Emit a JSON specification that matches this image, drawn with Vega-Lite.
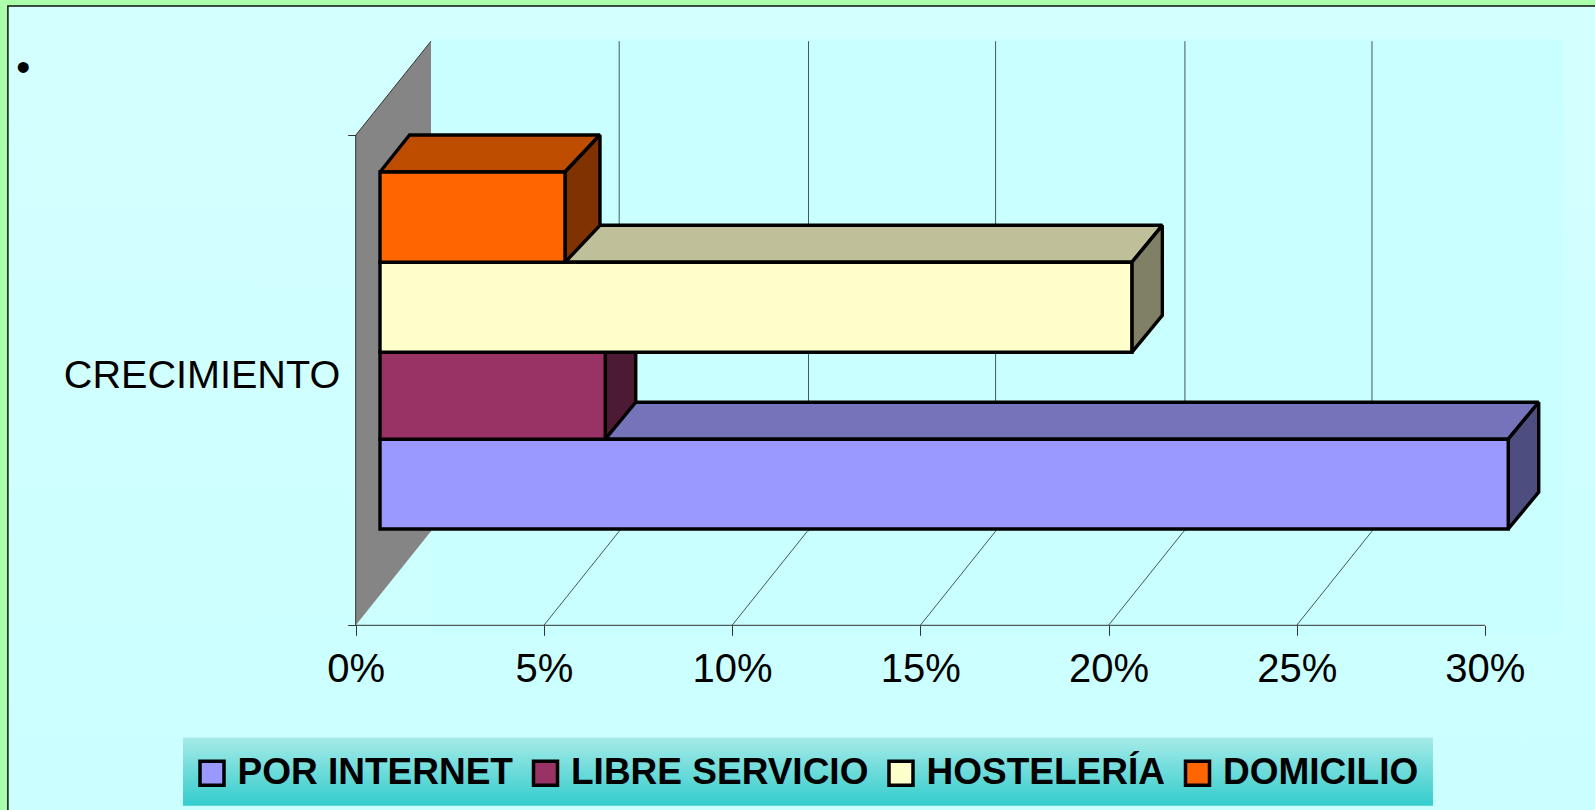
{"$schema":"https://vega.github.io/schema/vega-lite/v6.json","width":1595,"height":810,"padding":0,"autosize":{"type":"none"},"background":"#AAFFAA","config":{"view":{"stroke":null},"font":"Liberation Sans"},"datasets":{"panel":[{"x":-9.24,"x2":33.5,"y":126.4,"y2":-40}],"fondo":[{"x":2,"x2":32.07,"y":119.6,"y2":-2}],"leyenda":[{"x":-4.588,"x2":28.62,"y":-22.9,"y2":-36.8}],"pared":[{"serie":"pared","x":0,"abajo":0,"arriba":100},{"serie":"pared","x":2,"abajo":19.2,"arriba":119.2}],"rejilla":[{"x":5,"x2":7,"y":0,"y2":19.2},{"x":10,"x2":12,"y":0,"y2":19.2},{"x":15,"x2":17,"y":0,"y2":19.2},{"x":20,"x2":22,"y":0,"y2":19.2},{"x":25,"x2":27,"y":0,"y2":19.2},{"x":7,"x2":7,"y":19.2,"y2":119.2},{"x":12.03,"x2":12.03,"y":19.2,"y2":119.2},{"x":17,"x2":17,"y":19.2,"y2":119.2},{"x":22.03,"x2":22.03,"y":19.2,"y2":119.2},{"x":27,"x2":27,"y":19.2,"y2":119.2}],"bordes":[{"x":0,"x2":0,"y":0,"y2":100},{"x":0,"x2":2,"y":100,"y2":119.2},{"x":0,"x2":30,"y":0,"y2":0}],"arriba":[{"serie":"POR INTERNET arriba","y":37.98,"desde":0.646,"hasta":30.62},{"serie":"POR INTERNET arriba","y":45.53,"desde":1.456,"hasta":31.43},{"serie":"LIBRE SERVICIO arriba","y":55.71,"desde":0.646,"hasta":6.63},{"serie":"LIBRE SERVICIO arriba","y":63.26,"desde":1.456,"hasta":7.44},{"serie":"HOSTELERÍA arriba","y":74.08,"desde":0.646,"hasta":20.62},{"serie":"HOSTELERÍA arriba","y":81.63,"desde":1.456,"hasta":21.43},{"serie":"DOMICILIO arriba","y":92.51,"desde":0.646,"hasta":5.56},{"serie":"DOMICILIO arriba","y":100.06,"desde":1.43,"hasta":6.49}],"lado":[{"serie":"POR INTERNET lado","x":30.62,"abajo":19.65,"arriba":37.98},{"serie":"POR INTERNET lado","x":31.43,"abajo":27.2,"arriba":45.53},{"serie":"LIBRE SERVICIO lado","x":6.63,"abajo":37.98,"arriba":55.71},{"serie":"LIBRE SERVICIO lado","x":7.44,"abajo":45.53,"arriba":63.26},{"serie":"HOSTELERÍA lado","x":20.62,"abajo":55.71,"arriba":74.08},{"serie":"HOSTELERÍA lado","x":21.43,"abajo":63.26,"arriba":81.63},{"serie":"DOMICILIO lado","x":5.56,"abajo":74.08,"arriba":92.51},{"serie":"DOMICILIO lado","x":6.49,"abajo":81.63,"arriba":100.06}],"frente":[{"serie":"POR INTERNET","desde":0.646,"hasta":30.62,"abajo":19.65,"arriba":37.98},{"serie":"LIBRE SERVICIO","desde":0.646,"hasta":6.63,"abajo":37.98,"arriba":55.71},{"serie":"HOSTELERÍA","desde":0.646,"hasta":20.62,"abajo":55.71,"arriba":74.08},{"serie":"DOMICILIO","desde":0.646,"hasta":5.56,"abajo":74.08,"arriba":92.51}],"vineta":[{"x":-8.83,"y":113.5,"t":"•"}]},"layer":[{"data":{"name":"panel"},"mark":{"type":"rect","fill":{"gradient":"linear","x1":0,"y1":0,"x2":0,"y2":1,"stops":[{"offset":0,"color":"#D3FFFF"},{"offset":0.5,"color":"#D0FFFF"},{"offset":0.8,"color":"#CCFFFF"},{"offset":1,"color":"#CBFFFF"}]},"stroke":"#111111","strokeWidth":1.5},"encoding":{"x":{"field":"x","type":"quantitative","scale":{"domain":[-9.45,32.925],"nice":false,"zero":false},"axis":{"title":null,"values":[0,5,10,15,20,25,30],"orient":"bottom","offset":-184.7,"domain":false,"grid":false,"ticks":true,"tickSize":10,"tickColor":"#333333","tickWidth":1,"labelExpr":"datum.value + '%'","labelFont":"Liberation Sans","labelFontSize":40,"labelColor":"#000000","labelPadding":14,"labelOverlap":false,"labelFlush":false,"zindex":1}},"x2":{"field":"x2"},"y":{"field":"y","type":"quantitative","scale":{"domain":[-37.69,127.61],"nice":false,"zero":false},"axis":{"title":null,"values":[0,50,100],"orient":"left","offset":-355.7,"domain":false,"grid":false,"tickSize":8,"tickColor":"#333333","tickWidth":1,"tickOpacity":{"condition":{"test":"datum.value === 50","value":0},"value":1},"labelExpr":"datum.value === 50 ? 'CRECIMIENTO' : ''","labelFont":"Liberation Sans","labelFontSize":39.6,"labelColor":"#000000","labelPadding":8,"labelOffset":-5,"labelOverlap":false,"labelLimit":500,"labelFlush":false,"zindex":1}},"y2":{"field":"y2"}}},{"data":{"name":"fondo"},"mark":{"type":"rect","fill":"#CAFFFF"},"encoding":{"x":{"field":"x","type":"quantitative","scale":{"domain":[-9.45,32.925],"nice":false,"zero":false}},"x2":{"field":"x2"},"y":{"field":"y","type":"quantitative","scale":{"domain":[-37.69,127.61],"nice":false,"zero":false}},"y2":{"field":"y2"}}},{"data":{"name":"leyenda"},"mark":{"type":"rect","fill":{"gradient":"linear","x1":0,"y1":0,"x2":0,"y2":1,"stops":[{"offset":0,"color":"#A6EBE8"},{"offset":1,"color":"#33CCCC"}]}},"encoding":{"x":{"field":"x","type":"quantitative","scale":{"domain":[-9.45,32.925],"nice":false,"zero":false}},"x2":{"field":"x2"},"y":{"field":"y","type":"quantitative","scale":{"domain":[-37.69,127.61],"nice":false,"zero":false}},"y2":{"field":"y2"}}},{"data":{"name":"pared"},"mark":{"type":"area","fill":"#858585","orient":"vertical"},"encoding":{"x":{"field":"x","type":"quantitative","scale":{"domain":[-9.45,32.925],"nice":false,"zero":false}},"y":{"field":"abajo","type":"quantitative","scale":{"domain":[-37.69,127.61],"nice":false,"zero":false}},"y2":{"field":"arriba"}}},{"data":{"name":"rejilla"},"mark":{"type":"rule","stroke":"#3F5A5A","strokeWidth":1},"encoding":{"x":{"field":"x","type":"quantitative","scale":{"domain":[-9.45,32.925],"nice":false,"zero":false}},"x2":{"field":"x2"},"y":{"field":"y","type":"quantitative","scale":{"domain":[-37.69,127.61],"nice":false,"zero":false}},"y2":{"field":"y2"}}},{"data":{"name":"bordes"},"mark":{"type":"rule","stroke":"#333333","strokeWidth":1},"encoding":{"x":{"field":"x","type":"quantitative","scale":{"domain":[-9.45,32.925],"nice":false,"zero":false}},"x2":{"field":"x2"},"y":{"field":"y","type":"quantitative","scale":{"domain":[-37.69,127.61],"nice":false,"zero":false}},"y2":{"field":"y2"}}},{"data":{"name":"arriba"},"mark":{"type":"area","orient":"horizontal","stroke":"#000000","strokeWidth":3.4,"strokeJoin":"miter","strokeMiterLimit":2},"encoding":{"y":{"field":"y","type":"quantitative","scale":{"domain":[-37.69,127.61],"nice":false,"zero":false}},"x":{"field":"desde","type":"quantitative","scale":{"domain":[-9.45,32.925],"nice":false,"zero":false}},"x2":{"field":"hasta"},"fill":{"field":"serie","type":"nominal"}}},{"data":{"name":"lado"},"mark":{"type":"area","orient":"vertical","stroke":"#000000","strokeWidth":3.4,"strokeJoin":"miter","strokeMiterLimit":2},"encoding":{"x":{"field":"x","type":"quantitative","scale":{"domain":[-9.45,32.925],"nice":false,"zero":false}},"y":{"field":"abajo","type":"quantitative","scale":{"domain":[-37.69,127.61],"nice":false,"zero":false}},"y2":{"field":"arriba"},"fill":{"field":"serie","type":"nominal"}}},{"data":{"name":"frente"},"mark":{"type":"rect","stroke":"#000000","strokeWidth":3.4},"encoding":{"x":{"field":"desde","type":"quantitative","scale":{"domain":[-9.45,32.925],"nice":false,"zero":false}},"x2":{"field":"hasta"},"y":{"field":"abajo","type":"quantitative","scale":{"domain":[-37.69,127.61],"nice":false,"zero":false}},"y2":{"field":"arriba"},"fill":{"field":"serie","type":"nominal","scale":{"domain":["POR INTERNET","LIBRE SERVICIO","HOSTELERÍA","DOMICILIO","POR INTERNET arriba","LIBRE SERVICIO arriba","HOSTELERÍA arriba","DOMICILIO arriba","POR INTERNET lado","LIBRE SERVICIO lado","HOSTELERÍA lado","DOMICILIO lado"],"range":["#9999FF","#993366","#FFFFCC","#FF6600","#7574BB","#73264D","#BFBF99","#BF4D00","#4D4D80","#4D1A33","#808066","#803300"]},"legend":{"values":["POR INTERNET","LIBRE SERVICIO","HOSTELERÍA","DOMICILIO"],"title":null,"orient":"none","legendX":193.5,"legendY":754.5,"direction":"horizontal","columns":4,"symbolType":"square","symbolSize":576,"symbolStrokeColor":"#000000","symbolStrokeWidth":3.5,"symbolOpacity":1,"labelFont":"Liberation Sans","labelFontWeight":"bold","labelFontSize":37,"labelColor":"#000000","labelOffset":7,"columnPadding":12.5,"labelLimit":500}}}},{"data":{"name":"vineta"},"mark":{"type":"text","font":"Liberation Sans","fontSize":40,"color":"#000000","align":"center","baseline":"middle"},"encoding":{"x":{"field":"x","type":"quantitative","scale":{"domain":[-9.45,32.925],"nice":false,"zero":false}},"y":{"field":"y","type":"quantitative","scale":{"domain":[-37.69,127.61],"nice":false,"zero":false}},"text":{"field":"t"}}}]}
